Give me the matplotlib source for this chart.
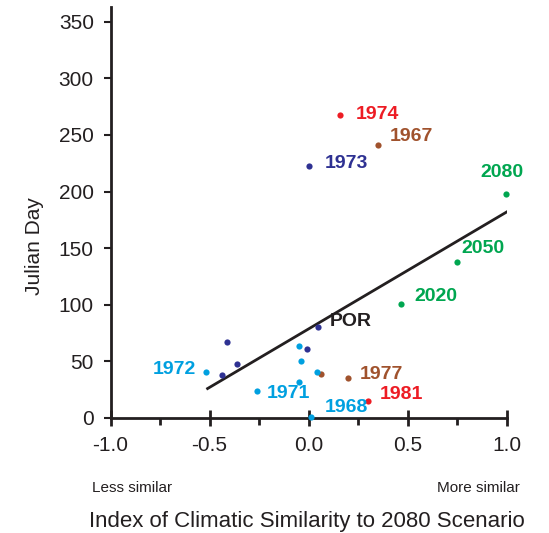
import matplotlib.pyplot as plt
import numpy as np

plt.rcParams['font.family'] = ['Liberation Sans', 'DejaVu Sans']

# index of similarity (x) and julian day (y), grouped by colour
red_x, red_y = [0.16, 0.30], [268, 15]
brown_x, brown_y = [0.35, 0.06, 0.20], [241, 39, 35]
navy_x, navy_y = [0.0, 0.045, -0.41, -0.36, -0.435, -0.01], [223, 80, 67, 48, 38, 61]
cyan_x = [-0.52, -0.05, -0.04, 0.04, -0.05, -0.26, 0.01]
cyan_y = [41, 64, 50, 41, 32, 24, 1]
green_x, green_y = [0.995, 0.75, 0.465], [198, 138, 101]

# regression line endpoints
fit_x = [-0.51, 1.0]
fit_y = [26, 182]

# labelled points: text, x, y, colour, offset (px), ha
labels = [
    ('1974', 0.16, 268, '#ed1c24', (15, 0), 'left'),
    ('1967', 0.35, 241, '#a0522d', (12, 9), 'left'),
    ('1973', 0.0, 223, '#2e3192', (16, 2), 'left'),
    ('2080', 0.995, 198, '#00a650', (-4, 21), 'center'),
    ('2050', 0.75, 138, '#00a650', (4, 13), 'left'),
    ('2020', 0.465, 101, '#00a650', (14, 7), 'left'),
    ('POR', 0.045, 80, '#231f20', (12, 6), 'left'),
    ('1972', -0.52, 41, '#00a0e0', (-10, 2), 'right'),
    ('1977', 0.20, 35, '#a0522d', (12, 4), 'left'),
    ('1971', -0.26, 24, '#00a0e0', (10, -3), 'left'),
    ('1981', 0.30, 15, '#ed1c24', (12, 6), 'left'),
    ('1968', 0.01, 1, '#00a0e0', (14, 9), 'left'),
]

fig = plt.figure(figsize=(5.49, 5.33), dpi=100)
ax = fig.add_axes([0.2013, 0.2158, 0.7217, 0.771])

ax.plot(fit_x, fit_y, color='#231f20', linewidth=2, zorder=2)
for xs, ys, c in [(red_x, red_y, '#ed1c24'), (brown_x, brown_y, '#a0522d'),
                  (navy_x, navy_y, '#2e3192'), (cyan_x, cyan_y, '#00a0e0'),
                  (green_x, green_y, '#00a650')]:
    ax.scatter(xs, ys, s=20, color=c, zorder=3, linewidths=0, clip_on=False)

for txt, x, y, c, off, ha in labels:
    ax.annotate(txt, (x, y), xytext=off, textcoords='offset pixels',
                color=c, fontsize=14, fontweight='bold', ha=ha, va='center')

ax.set_xlim(-1.0, 1.0)
ax.set_ylim(0, 363)
ax.spines[['top', 'right']].set_visible(False)
ax.spines[['left', 'bottom']].set_linewidth(2)
ax.spines[['left', 'bottom']].set_color('#231f20')

ax.set_xticks([-1.0, -0.5, 0.0, 0.5, 1.0], labels=['-1.0', '-0.5', '0.0', '0.5', '1.0'])
ax.set_xticks([-0.75, -0.25, 0.25, 0.75], minor=True)
ax.set_yticks(np.arange(0, 351, 50))
ax.tick_params(axis='x', which='major', direction='inout', length=12, width=2,
               pad=7, labelsize=15, color='#231f20', labelcolor='#231f20')
ax.tick_params(axis='x', which='minor', direction='out', length=5, width=2,
               color='#231f20')
ax.tick_params(axis='y', direction='out', length=5, width=1.5, pad=7,
               labelsize=15, color='#231f20', labelcolor='#231f20')

fig.text(35 / 549, 1 - 246 / 533, 'Julian Day', fontsize=15, rotation=90,
         ha='center', va='center', color='#231f20')
fig.text(92 / 549, 1 - 488 / 533, 'Less similar', fontsize=11,
         ha='left', va='center', color='#231f20')
fig.text(520 / 549, 1 - 488 / 533, 'More similar', fontsize=11,
         ha='right', va='center', color='#231f20')
fig.text(307 / 549, 1 - 521 / 533, 'Index of Climatic Similarity to 2080 Scenario',
         fontsize=16, ha='center', va='center', color='#231f20')

fig.savefig('out.png', dpi=100)
